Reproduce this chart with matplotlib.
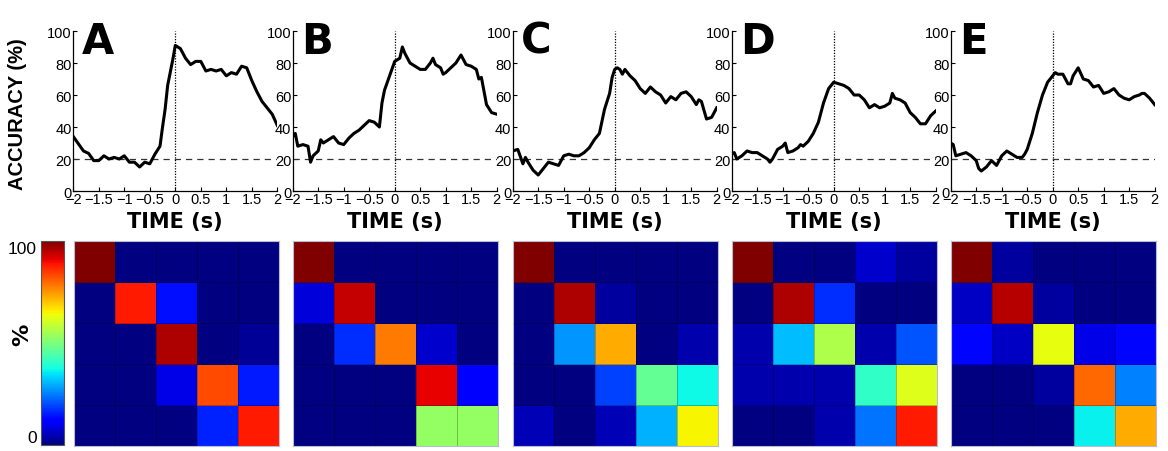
import numpy as np
import matplotlib.pyplot as plt
from matplotlib.colors import Normalize
import matplotlib.cm as cm

# ---- veriler ----
time_a = [-2, -1.8, -1.7, -1.6, -1.5, -1.4, -1.3, -1.2, -1.1, -1.0, -0.9, -0.8, -0.7, -0.6, -0.5,
          -0.45, -0.4, -0.3, -0.25, -0.2, -0.15, -0.1, -0.05, 0, 0.1, 0.2, 0.3, 0.4, 0.5, 0.6, 0.7,
          0.8, 0.9, 1.0, 1.1, 1.2, 1.3, 1.4, 1.5, 1.6, 1.7, 1.8, 1.9, 2.0]
acc_a = [34, 25, 23.5, 19, 19, 22, 20, 21, 20, 22, 18, 18, 15, 18, 17,
         20, 23, 28, 40, 51, 66, 74, 82, 91, 89, 83, 79, 81, 81, 75, 76,
         75, 76, 72, 74, 73, 78, 77, 69, 62, 56, 52, 48, 41]

time_b = [-2, -1.95, -1.9, -1.8, -1.7, -1.65, -1.6, -1.5, -1.45, -1.4, -1.3, -1.2, -1.1, -1.0,
          -0.9, -0.8, -0.7, -0.6, -0.5, -0.4, -0.3, -0.25, -0.2, -0.1, 0, 0.1, 0.15, 0.2, 0.3,
          0.4, 0.5, 0.6, 0.7, 0.75, 0.8, 0.9, 0.95, 1.0, 1.1, 1.2, 1.3, 1.4, 1.5, 1.6, 1.65,
          1.7, 1.8, 1.9, 2.0]
acc_b = [34, 36, 28, 29, 28, 18, 22, 25, 32, 30, 32, 34, 30, 29,
         33, 36, 38, 41, 44, 43, 40, 55, 63, 72, 81, 83, 90, 86, 80,
         78, 76, 76, 80, 83, 79, 77, 73, 74, 77, 80, 85, 79, 78, 76, 70,
         71, 54, 49, 48]

time_c = [-2, -1.9, -1.8, -1.75, -1.7, -1.6, -1.5, -1.4, -1.3, -1.2, -1.1, -1.0, -0.9, -0.8,
          -0.7, -0.6, -0.5, -0.4, -0.3, -0.2, -0.1, -0.05, 0, 0.05, 0.1, 0.15, 0.2, 0.3, 0.4,
          0.5, 0.6, 0.7, 0.8, 0.9, 1.0, 1.1, 1.2, 1.3, 1.4, 1.5, 1.6, 1.65, 1.7, 1.8, 1.9, 2.0]
acc_c = [25, 26, 17, 21, 18, 13, 10, 14, 18, 17, 16, 22, 23, 22,
         22, 24, 27, 32, 36, 51, 61, 71, 76, 77, 76, 73, 76, 72, 69,
         64, 61, 65, 62, 60, 55, 59, 57, 61, 62, 59, 54, 57, 56, 45, 46, 52]

time_d = [-2, -1.95, -1.9, -1.8, -1.7, -1.6, -1.5, -1.4, -1.3, -1.25, -1.2, -1.1, -1.0, -0.95,
          -0.9, -0.8, -0.7, -0.65, -0.6, -0.5, -0.4, -0.3, -0.2, -0.1, 0, 0.1, 0.2, 0.3, 0.4,
          0.5, 0.6, 0.7, 0.8, 0.9, 1.0, 1.1, 1.15, 1.2, 1.3, 1.4, 1.5, 1.6, 1.7, 1.8, 1.9, 2.0]
acc_d = [23, 24, 20, 22, 25, 24, 24, 22, 20, 18, 20, 26, 28, 30,
         24, 25, 27, 29, 28, 31, 36, 43, 55, 64, 68, 67, 66, 64, 60,
         60, 57, 52, 54, 52, 53, 55, 61, 58, 57, 55, 49, 46, 42, 42, 47, 50]

time_e = [-2, -1.95, -1.9, -1.8, -1.7, -1.6, -1.5, -1.45, -1.4, -1.3, -1.2, -1.1, -1.0, -0.9,
          -0.8, -0.7, -0.6, -0.55, -0.5, -0.4, -0.3, -0.2, -0.1, 0, 0.05, 0.1, 0.2, 0.3, 0.35,
          0.4, 0.5, 0.6, 0.7, 0.8, 0.9, 1.0, 1.1, 1.2, 1.3, 1.4, 1.5, 1.6, 1.7, 1.75, 1.8, 1.9, 2.0]
acc_e = [30, 29, 22, 23, 24, 22, 19, 14, 12.5, 15, 19, 16, 22, 25,
         23, 21, 21, 23, 26, 36, 49, 60, 68, 72, 74, 73, 73, 67, 67,
         72, 77, 70, 69, 65, 66, 61, 62, 64, 60, 58, 57, 59, 60, 61, 61, 58, 54]

# karışıklık matrisleri (%)
conf_a = [[100, 0, 0, 0, 0],
          [0, 88, 14, 0, 0],
          [0, 0, 96, 0, 2],
          [0, 0, 9, 83, 15],
          [0, 0, 0, 16, 88]]
conf_b = [[100, 0, 0, 0, 0],
          [8, 94, 0, 0, 0],
          [0, 17, 78, 7, 0],
          [0, 0, 0, 91, 12],
          [0, 0, 0, 53, 53]]
conf_c = [[100, 0, 0, 0, 0],
          [0, 96, 3, 0, 0],
          [0, 27, 73, 0, 4],
          [0, 0, 19, 47, 37],
          [5, 0, 5, 30, 65]]
conf_d = [[100, 0, 0, 7, 3],
          [0, 96, 17, 0, 0],
          [4, 31, 56, 4, 21],
          [4, 4, 4, 41, 62],
          [0, 0, 4, 24, 88]]
conf_e = [[100, 3, 0, 0, 0],
          [6, 95, 3, 0, 0],
          [13, 6, 63, 9, 13],
          [0, 0, 3, 80, 25],
          [0, 0, 0, 36, 73]]

letters = ['A', 'B', 'C', 'D', 'E']
times = [time_a, time_b, time_c, time_d, time_e]
accs = [acc_a, acc_b, acc_c, acc_d, acc_e]
confs = [conf_a, conf_b, conf_c, conf_d, conf_e]
xticks = [-2, -1.5, -1, -0.5, 0, 0.5, 1, 1.5, 2]
xticklabels = ['\u22122', '\u22121.5', '\u22121', '\u22120.5', '0', '0.5', '1', '1.5', '2']

W, H = 1168, 452
fig = plt.figure(figsize=(W / 100, H / 100), dpi=100)
plt.rcParams['font.family'] = ['Liberation Sans', 'DejaVu Sans']

top_left = [73.3, 292.7, 512.7, 731.7, 950.7]
bot_left = [74, 292.7, 512.7, 731.7, 950.7]

for i in range(5):
    ax = fig.add_axes([top_left[i] / W, 1 - 192 / H, 204 / W, 160 / H])
    ax.plot(times[i], accs[i], color='black', lw=2.2, zorder=3)
    ax.axhline(20, color='#333333', lw=0.9, ls=(0, (5, 4)))
    ax.axvline(0, color='black', lw=0.9, ls=(0, (1, 1.2)))
    ax.set_xlim(-2, 2)
    ax.set_ylim(0, 100)
    ax.set_xticks(xticks)
    ax.set_xticklabels(xticklabels)
    ax.set_yticks([0, 20, 40, 60, 80, 100])
    ax.tick_params(direction='in', length=3, labelsize=10.5, pad=1, width=0.8)
    for s in ['top', 'right']:
        ax.spines[s].set_visible(False)
    for s in ['left', 'bottom']:
        ax.spines[s].set_linewidth(0.9)
    ax.set_xlabel('TIME (s)', fontsize=15, fontweight='bold', labelpad=3,
                  family='DejaVu Sans')
    ax.text(0.04, 1.07, letters[i], transform=ax.transAxes, fontsize=30,
            fontweight='bold', va='top', ha='left', family='DejaVu Sans')

fig.text(18 / W, 1 - 114 / H, 'ACCURACY (%)', rotation=90, fontsize=14.5,
         fontweight='bold', ha='center', va='center')

norm = Normalize(0, 100)
for i in range(5):
    ax = fig.add_axes([bot_left[i] / W, 1 - 447 / H, 205 / W, 205 / H])
    ax.pcolormesh(np.array(confs[i])[::-1], cmap='jet', norm=norm,
                  edgecolor=(0, 0, 0, 0.25), linewidth=0.6)
    ax.set_xticks([])
    ax.set_yticks([])
    for s in ax.spines.values():
        s.set_color('#b8bcd0')
        s.set_linewidth(0.8)

cax = fig.add_axes([40.7 / W, 1 - 446 / H, 23.3 / W, 204 / H])
cb = fig.colorbar(cm.ScalarMappable(norm=norm, cmap='jet'), cax=cax)
cb.set_ticks([0, 100])
cax.yaxis.set_ticks_position('left')
cax.tick_params(length=0, labelsize=12.5, pad=3)
labs = cax.get_yticklabels()
labs[0].set_va('bottom')
labs[-1].set_va('top')
cb.outline.set_edgecolor('#555555')
cb.outline.set_linewidth(0.8)
fig.text(22 / W, 1 - 335 / H, '%', rotation=90, fontsize=16, fontweight='bold',
         ha='center', va='center', family='DejaVu Sans')

fig.savefig('out.png', dpi=100)
